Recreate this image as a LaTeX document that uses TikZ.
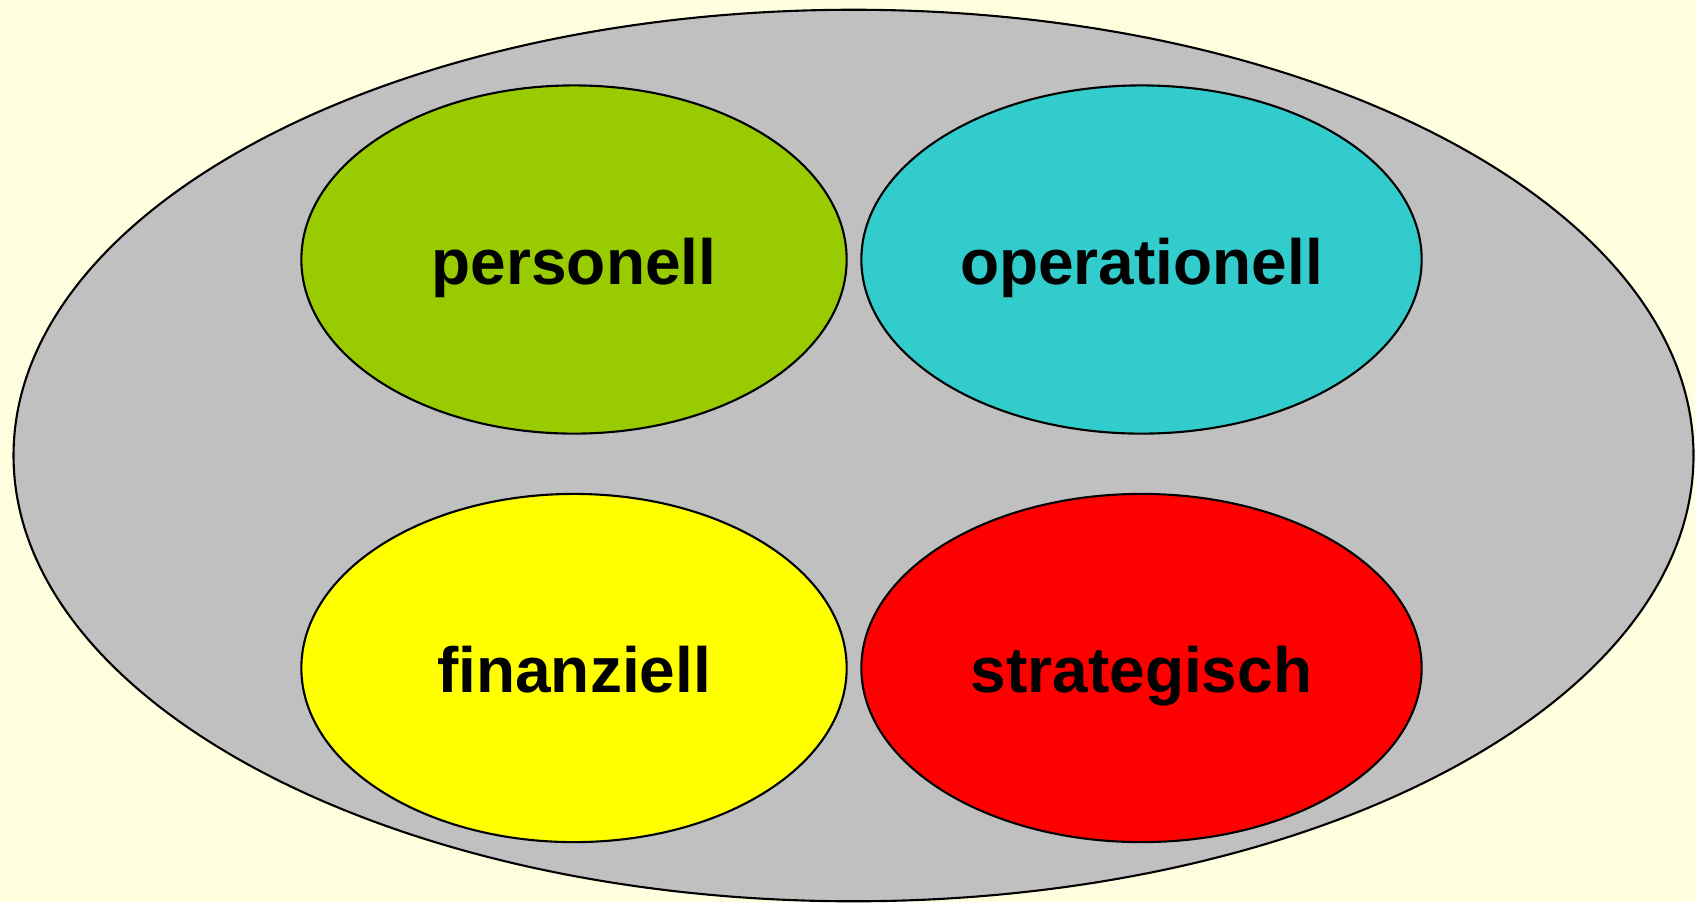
\documentclass[tikz,border=0pt]{standalone}
\usepackage{fontspec}
\setmainfont{Liberation Sans}
\usetikzlibrary{shapes.geometric}
\definecolor{bgyellow}{HTML}{FFFFE0}
\definecolor{riskgrey}{HTML}{C0C0C0}
\definecolor{riskgreen}{HTML}{99CC00}
\definecolor{riskcyan}{HTML}{33CCCC}
\definecolor{riskyellow}{HTML}{FFFF00}
\definecolor{riskred}{HTML}{FF0000}
\tikzset{
  riskarea/.style={ellipse,draw=black,line width=0.6pt,inner sep=0pt},
  risklabel/.style={anchor=base,inner sep=0pt,font=\fontsize{18.2}{20}\selectfont\bfseries}
}
\begin{document}
\begin{tikzpicture}[x=0.01cm,y=-0.01cm]
                                    \def\rxl{5.45cm};\def\rxr{5.60cm};\def\ry{3.48cm};
% background
                                    \fill[bgyellow] (0,0) rectangle (1695,902);
                                    \useasboundingbox (0,0) rectangle (1695,902);

% outer ellipse
                                    \node[riskarea,fill=riskgrey,minimum width=16.79cm,minimum height=8.91cm] (all) at (853.5,455.5) {};

% four areas
                                    \node[riskarea,fill=riskgreen,minimum width=\rxl,minimum height=\ry] (pers) at (574,259.5) {};
                                    \node[riskarea,fill=riskcyan,minimum width=\rxr,minimum height=\ry] (oper) at (1141.5,259.5) {};
                                    \node[riskarea,fill=riskyellow,minimum width=\rxl,minimum height=\ry] (fin) at (574,668) {};
                                    \node[riskarea,fill=riskred,minimum width=\rxr,minimum height=\ry] (strat) at (1141.5,668) {};

% labels
                                    \node[risklabel] (perstxt) at ([yshift=-0.245cm]pers.center) {personell};
                                    \node[risklabel] (opertxt) at ([yshift=-0.245cm]oper.center) {operationell};
                                    \node[risklabel] (fintxt) at ([yshift=-0.245cm]fin.center) {finanziell};
                                    \node[risklabel] (strattxt) at ([yshift=-0.245cm]strat.center) {strategisch};
                                \end{tikzpicture}
\end{document}
